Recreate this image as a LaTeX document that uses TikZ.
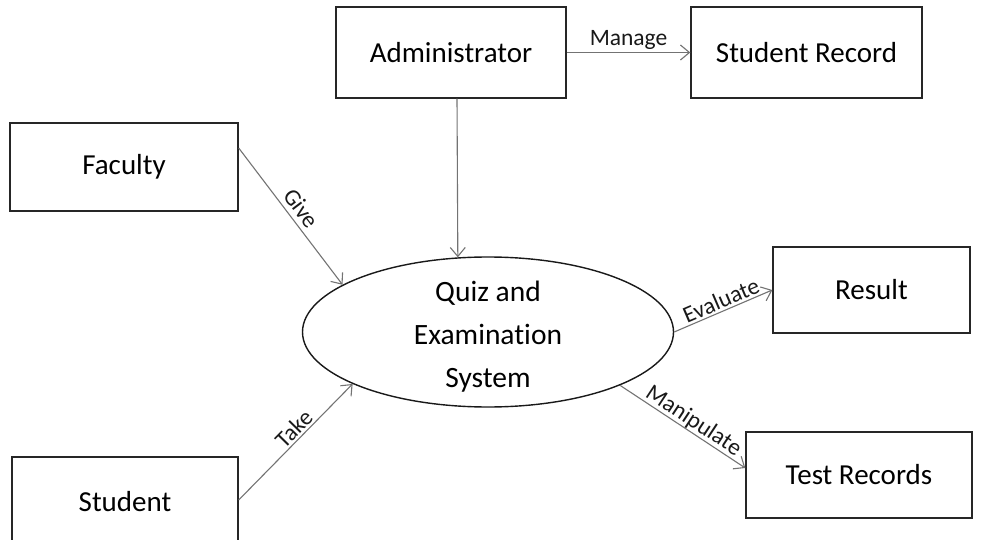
\documentclass[tikz,border=0pt]{standalone}
\usepackage{fontspec}
\setmainfont{Carlito}[Ligatures=NoCommon]
\usetikzlibrary{arrows.meta,shapes.geometric}
\begin{document}
\begin{tikzpicture}[x=1pt,y=-1pt,
  box/.style={draw=black!85, line width=1.4pt, font=\fontsize{29}{34}\selectfont, inner sep=0pt},
  conn/.style={draw=black!55, line width=1.1pt, -{Straight Barb[length=9pt,width=15pt,line width=1.1pt]}},
  lbl/.style={font=\fontsize{23.5}{27}\selectfont, inner sep=2pt, text=black!90}]
\useasboundingbox (0,0) rectangle (985,540);
\begin{scope}
\clip (0,0) rectangle (985,540);
\node[box, minimum width=230pt, minimum height=91pt] (admin) at (451,52.5) {Administrator};
\node[box, minimum width=231pt, minimum height=91pt] (srec) at (806.5,52.5) {Student Record};
\node[box, minimum width=228pt, minimum height=88pt] (faculty) at (124,167) {Faculty};
\node[box, minimum width=197pt, minimum height=86pt] (result) at (871.5,290) {Result};
\node[box, minimum width=226pt, minimum height=86pt] (trec) at (859,475) {Test Records};
\node[box, minimum width=226pt, minimum height=90pt] (student) at (125,502) {Student};
\node[draw=black!90, line width=1.4pt, ellipse, minimum width=371pt, minimum height=150pt, inner sep=0pt] (quiz) at (488,332) {};
\node[align=center, font=\fontsize{29.5}{43}\selectfont, inner sep=0pt] (quiztext) at (488,337) {Quiz and\\Examination\\System};

\draw[conn] (admin.east) -- node[lbl, above] {Manage} (srec.west);
\draw[conn] ([xshift=6pt]admin.south) -- (quiz.112.7);
\draw[conn] ([yshift=19pt]faculty.east) -- node[lbl, sloped, above=3pt, pos=0.5] {Give} (quiz.162.8);
\draw[conn] ([yshift=2pt]student.east) -- node[lbl, sloped, above, pos=0.55] {Take} (quiz.201.9);
\draw[conn] (quiz.east) -- node[lbl, sloped, above, pos=0.52] {Evaluate} (result.west);
\draw[conn] (quiz.338.1) -- node[lbl, sloped, above=-2pt, pos=0.54] {Manipulate} ([yshift=7pt]trec.west);
\end{scope}
\end{tikzpicture}
\end{document}
